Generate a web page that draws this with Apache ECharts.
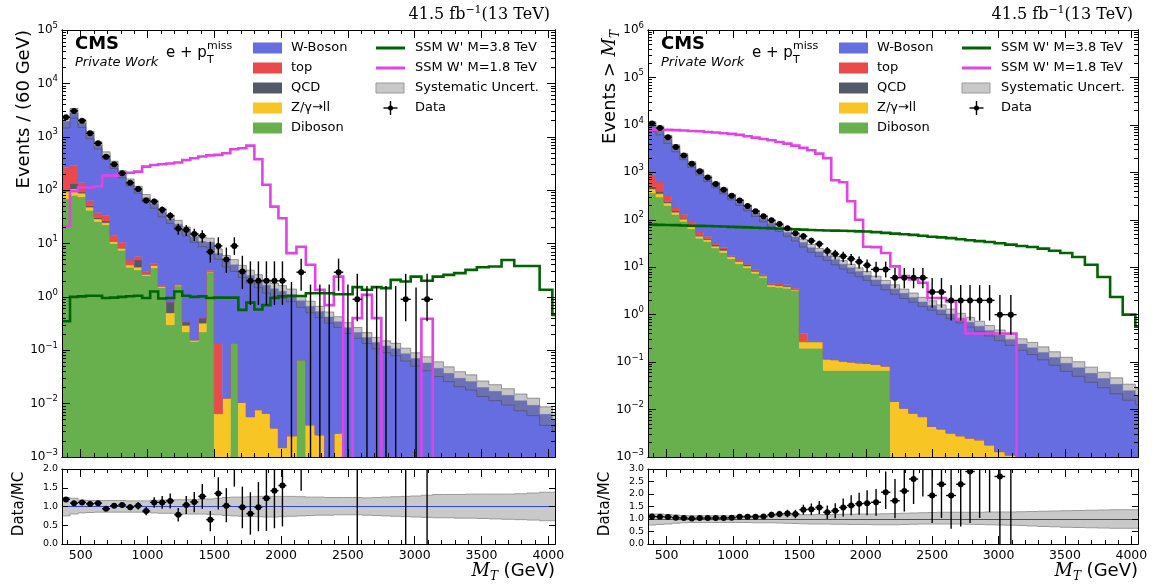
<!DOCTYPE html>
<html><head><meta charset="utf-8">
<script src="https://cdn.jsdelivr.net/npm/echarts@6/dist/echarts.min.js"></script>
<style>html,body{margin:0;padding:0;background:#fff;}#chart{width:1154px;height:584px;}</style>
</head><body><div id="chart"></div>
<script>
// ---------------- DATA ----------------
const xMin = 360, xMax = 4050;
const binEdges = [360,420,480,540,600,660,720,780,840,900,
  960,1020,1080,1140,1200,1260,1320,1380,1440,1500,
  1560,1620,1680,1740,1800,1860,1920,1980,2040,2115,
  2185,2255,2325,2395,2465,2535,2605,2680,2750,2820,
  2895,2970,3050,3135,3215,3295,3380,3465,3555,3650,
  3745,3840,3935,4030,4050];
const majorXTicks = [500,1000,1500,2000,2500,3000,3500,4000];
const leftDecades = [1e-3,1e-2,1e-1,1,10,100,1e3,1e4,1e5];
const rightDecades = [1e-3,1e-2,1e-1,1,10,100,1e3,1e4,1e5,1e6];

// ---- left panel: Events / (60 GeV)
const leftWBoson = [1685,2505,1663,1027,657,416,286,189,136,97,
  69,51,36.8,28.1,21.3,17,13.1,10.5,7.35,6.36,
  4.79,3.86,3.1,2.5,2.04,1.64,1.41,1.28,1.1,0.78,
  0.66,0.53,0.42,0.34,0.265,0.215,0.174,0.14,0.12,0.107,
  0.086,0.07,0.058,0.046,0.037,0.03,0.026,0.020,0.017,0.0143,
  0.0113,0.0093,0.0063,0.005];
const leftTop = [162,150,45,12,7.3,7,3.2,2.3,0.9,0.9,
  0.3,0.3,0.05,0,0.05,0,0,0,0.2,0.13,
  0,0,0,0,0,0,0,0,0,0,
  0,0,0,0,0,0,0,0,0,0,
  0,0,0,0,0,0,0,0,0,0,
  0,0,0,0];
const leftQCD = [10,30,5,3,2,2,0,0,0,1.3,
  0,0,0,0.3,0,0.05,0,0.08,0,0,
  0,0,0,0,0,0,0,0,0,0,
  0,0,0,0,0,0,0,0,0,0,
  0,0,0,0,0,0,0,0,0,0,
  0,0,0,0];
const leftZll = [25,25,12,6,3,2,0.9,0.7,0.4,0.4,
  0.15,0.4,0.08,0.2,0.08,0.07,0.01,0.1,0.1,0.0065,
  0.0127,0,0.0105,0.0057,0.0077,0.0066,0.0035,0.0015,0.0025,0,
  0.004,0.0026,0,0.0028,0,0,0,0,0,0,
  0,0,0,0,0,0,0,0,0,0,
  0,0,0,0];
const leftDiboson = [68,80,75,42,25.8,22.5,10,7.5,3.6,3.2,
  2.5,3.5,1.5,0.3,1.6,0.22,0.146,0.22,2.85,0,
  0,0.136,0,0,0,0,0,0,0,0.066,
  0,0,0,0,0,0,0,0,0,0,
  0,0,0,0,0,0,0,0,0,0,
  0,0,0,0];
const leftData = [2317,3040,1995,1165,755,424,305,207,138,105,
  64,61,43,33,19,18,15,14,7,9,
  5,9,3,2,2,2,2,2,0,2.9,
  0,0,0,2.9,0,0.9,0,0,0,0,
  0.9,0,0.9,null,null,null,null,null,null,null,
  null,null,null,null];
const leftDataLo = [2269,2985,1950,1131,728,403,288,193,126,95,
  56,53,36.5,27.3,14.6,13.8,11.1,10.3,4.4,6.1,
  2.8,6.1,1.4,0.71,0.71,0.71,0.71,0.71,0,1.3,
  0,0,0,1.3,0,0.35,0,0,0,0,
  0.35,0,0.35,null,null,null,null,null,null,null,
  null,null,null,null];
const leftDataHi = [2365,3095,2040,1199,782,445,322,221,150,115,
  72,69,49.5,38.7,23.4,22.2,18.9,17.7,10.8,13.1,
  8.4,13.1,5.9,4.64,4.64,4.64,4.64,4.64,1.9,5.2,
  1.7,1.7,1.7,5.2,1.7,2.7,1.6,1.6,1.6,1.6,
  2.7,1.5,2.7,null,null,null,null,null,null,null,
  null,null,null,null];
const leftSSM38 = [0.35,1.0,1.02,1.05,1.05,0.95,0.97,1.0,1.03,1.05,
  0.95,1.26,0.93,0.95,1.26,1.05,1.0,1.02,0.95,0.97,
  0.97,0.97,0.57,0.78,0.58,0.7,0.95,1.02,1.04,1.04,
  1.17,1.17,1.17,1.12,1.12,1.52,1.36,1.52,1.46,2.08,
  1.94,2.4,2.0,2.4,2.58,2.78,3.2,3.6,3.7,4.9,
  3.8,3.8,1.36,0.46];
const leftSSM18 = [21,95,112,112,117,187,187,207,212,222,
  276,296,305,316,330,367,395,427,447,458,
  491,583,608,682,378,126,49,29.8,6.6,8.7,
  4.0,1.35,0.7,2.4,0,0.4,1.09,0.4,0,0,
  0,0,0.39,0,0,0,0,0,0,0,
  0,0,0,0];
const leftSysUp = [0.24,0.22,0.17,0.16,0.16,0.16,0.16,0.16,0.15,0.15,
  0.15,0.16,0.17,0.18,0.18,0.18,0.18,0.2,0.2,0.22,
  0.24,0.25,0.25,0.26,0.27,0.27,0.27,0.27,0.27,0.26,
  0.25,0.25,0.24,0.24,0.24,0.24,0.23,0.24,0.25,0.26,
  0.27,0.28,0.3,0.32,0.32,0.32,0.33,0.33,0.33,0.33,
  0.34,0.36,0.38,0.38];
const leftSysDn = [0.25,0.2,0.17,0.16,0.15,0.15,0.15,0.15,0.15,0.15,
  0.16,0.17,0.18,0.18,0.19,0.2,0.2,0.2,0.21,0.22,
  0.24,0.25,0.26,0.27,0.27,0.28,0.28,0.27,0.26,0.25,
  0.24,0.23,0.23,0.22,0.22,0.22,0.23,0.24,0.25,0.26,
  0.27,0.28,0.29,0.3,0.3,0.31,0.31,0.32,0.33,0.34,
  0.35,0.36,0.38,0.38];
const leftRatio = [1.19,1.09,1.11,1.07,1.09,0.94,1.02,1.04,0.98,1.02,
  0.88,1.11,1.11,1.15,0.78,1.04,1.12,1.27,0.65,1.35,
  1.02,2.4,0.98,0.81,0.98,1.22,1.42,1.56,null,3.4,
  null,null,null,8.5,null,4.2,null,null,null,null,
  10,null,15,null,null,null,null,null,null,null,
  null,null,null,null];
const leftRatioLo = [1.17,1.07,1.09,1.04,1.05,0.89,0.96,0.97,0.90,0.92,
  0.77,0.97,0.94,0.95,0.60,0.80,0.85,0.94,0.34,0.92,
  0.58,1.53,0.42,0.25,0.34,0.35,0.42,0.47,null,1.42,
  null,null,null,3.8,null,0,null,null,null,null,
  0,null,0,null,null,null,null,null,null,null,
  null,null,null,null];
const leftRatioHi = [1.21,1.11,1.13,1.10,1.13,0.99,1.08,1.11,1.06,1.12,
  0.99,1.25,1.28,1.35,0.96,1.28,1.39,1.60,0.88,1.78,
  1.49,3.3,1.53,1.38,1.65,2.5,2.9,3.2,null,6.5,
  null,null,null,15,null,12,null,null,null,null,
  30,null,45,null,null,null,null,null,null,null,
  null,null,null,null];

// ---- right panel: Events > M_T
const rightWBoson = [8840,7263,4771,3083,2050,1390,965,700,516,387,
  287,221,168.5,129.6,100,79.4,63,49.8,39.9,32.6,
  25.6,20.9,17.2,14.2,11.5,9.6,8.0,6.66,5.3,4.27,
  3.48,2.8,2.3,1.85,1.55,1.26,1.03,0.84,0.69,0.57,
  0.46,0.37,0.3,0.24,0.2,0.16,0.125,0.095,0.076,0.058,
  0.045,0.034,0.025,0.02];
const rightTop = [391,229,79,34,22,15,8,4.8,2.5,1.6,
  0.7,0.4,0.35,0.3,0.3,0.25,0.25,0.25,0.25,0.13,
  0,0,0,0,0,0,0,0,0,0,
  0,0,0,0,0,0,0,0,0,0,
  0,0,0,0,0,0,0,0,0,0,
  0,0,0,0];
const rightQCD = [54,44,14,9,6,4,2,2,2,1.8,
  0.5,0.5,0.5,0.5,0.13,0.13,0.13,0.13,0,0,
  0,0,0,0,0,0,0,0,0,0,
  0,0,0,0,0,0,0,0,0,0,
  0,0,0,0,0,0,0,0,0,0,
  0,0,0,0];
const rightZll = [77,52,27,15,9,6,4,3.1,2.4,2.0,
  1.6,1.45,1.05,0.62,0.42,0.34,0.27,0.27,0.17,0.073,
  0.073,0.073,0.05,0.046,0.038,0.034,0.03,0.027,0.023,0.016,
  0.0148,0.0107,0.0084,0.0071,0.0044,0.0039,0.0032,0.0028,0.0025,0.0023,
  0.0018,0.0013,0.0011,0,0,0,0,0,0,0,
  0,0,0,0];
const rightDiboson = [367,302,199,129,93,65,41,35,25.4,20.5,
  15,11.8,9.6,7.5,6.1,3.9,3.8,3.6,3.2,0.197,
  0.197,0.197,0.0665,0.0665,0.0665,0.0665,0.0665,0.0665,0.0665,0.0665,
  0,0,0,0,0,0,0,0,0,0,
  0,0,0,0,0,0,0,0,0,0,
  0,0,0,0];
const rightData = [10700,8600,5500,3430,2270,1510,1060,775,570,430,
  320,256,196,151,118,98,81,66,52,45,
  36,31,22,19,17,15,13,11,9,9,
  6,6,6,6,3,3,2,2,2,2,
  2,1,1,null,null,null,null,null,null,null,
  null,null,null,null];
const rightDataLo = [10597,8507,5426,3371,2222,1471,1027,747,546,409,
  302,240,182,139,107,88,72,58,45,38,
  30,25.5,17.4,14.6,12.9,11.1,9.4,7.8,6.1,6.1,
  3.6,3.6,3.6,3.6,1.4,1.4,0.75,0.75,0.75,0.75,
  0.75,0.38,0.38,null,null,null,null,null,null,null,
  null,null,null,null];
const rightDataHi = [10803,8693,5574,3489,2318,1549,1093,803,594,451,
  338,272,210,163,129,108,90,74,59,52,
  42,36.5,26.7,23.4,21.1,19.0,16.8,14.6,13.1,13.1,
  9.6,9.6,9.6,9.6,5.9,5.9,4.2,4.2,4.2,4.2,
  4.2,2.6,2.6,null,null,null,null,null,null,null,
  null,null,null,null];
const rightSSM38 = [79,78,77.5,77,76,75,74.5,74,73,72,
  71,70,69,68,67,66,65,64,63,62,
  61,60,59.5,59,58.5,58,57,56.5,55,53,
  51,49.5,48,46,44,42.5,41,39,37,35.5,
  34,32,30,28,26.7,24.6,22.3,19.9,16.4,11.3,
  6.2,2.35,1.0,0.56];
const rightSSM18 = [7960,7900,7850,7750,7600,7450,7330,7100,6890,6680,
  6460,6150,5750,5390,5060,4730,4370,4030,3660,3270,
  2910,2480,1990,680,620,245,100,27,26.5,20,
  10.4,6.5,5.5,4.7,2.25,2.25,1.9,0.79,0.4,0.4,
  0.4,0.4,0.4,0,0,0,0,0,0,0,
  0,0,0,0];
const rightSysUp = [0.2,0.2,0.18,0.16,0.14,0.13,0.13,0.13,0.13,0.13,
  0.13,0.13,0.13,0.13,0.14,0.14,0.15,0.15,0.16,0.17,
  0.17,0.18,0.18,0.18,0.19,0.19,0.2,0.2,0.2,0.21,
  0.22,0.23,0.24,0.25,0.26,0.27,0.27,0.27,0.27,0.27,
  0.28,0.28,0.28,0.29,0.3,0.31,0.32,0.33,0.34,0.35,
  0.36,0.37,0.37,0.37];
const rightSysDn = [0.24,0.22,0.2,0.17,0.15,0.14,0.14,0.14,0.14,0.14,
  0.14,0.14,0.14,0.15,0.15,0.15,0.16,0.17,0.18,0.19,
  0.2,0.2,0.2,0.21,0.21,0.22,0.22,0.22,0.23,0.23,
  0.23,0.22,0.21,0.2,0.2,0.2,0.2,0.2,0.21,0.22,
  0.23,0.24,0.25,0.26,0.28,0.3,0.31,0.33,0.34,0.35,
  0.36,0.37,0.37,0.37];
const rightRatio = [1.10,1.09,1.08,1.05,1.04,1.02,1.04,1.04,1.04,1.04,
  1.05,1.09,1.09,1.09,1.10,1.17,1.20,1.22,1.20,1.37,
  1.39,1.46,1.27,1.33,1.46,1.54,1.61,1.63,1.67,2.07,
  1.73,2.12,2.60,3.2,1.94,2.39,1.94,2.39,2.90,3.5,
  4.3,2.70,3.3,null,null,null,null,null,null,null,
  null,null,null,null];
const rightRatioLo = [1.09,1.08,1.07,1.03,1.02,1.00,1.01,1.00,0.99,0.99,
  0.99,1.02,1.01,1.00,1.00,1.05,1.07,1.07,1.03,1.17,
  1.16,1.20,1.00,1.03,1.10,1.15,1.17,1.15,1.13,1.40,
  1.03,1.30,1.60,1.90,0.84,1.04,0.61,0.70,0.84,1.04,
  1.27,0,0,null,null,null,null,null,null,null,
  null,null,null,null];
const rightRatioHi = [1.11,1.10,1.09,1.07,1.06,1.05,1.07,1.08,1.09,1.09,
  1.11,1.16,1.17,1.18,1.20,1.29,1.33,1.37,1.37,1.57,
  1.62,1.72,1.54,1.63,1.82,1.95,2.05,2.15,2.20,2.90,
  2.60,3.30,4.00,5.00,3.80,4.60,4.00,4.80,5.80,7.00,
  8.70,7.00,9.00,null,null,null,null,null,null,null,
  null,null,null,null];

// ---------------- STYLE / LAYOUT ----------------
const FONT = '"DejaVu Sans", "Liberation Sans", sans-serif';
const SERIF = '"DejaVu Serif", "Liberation Serif", serif';
const C = {w:'#656de0', top:'#ea4a4b', qcd:'#525a6a', zll:'#f8c624', dib:'#67b04d',
  ssm38:'#006400', ssm18:'#e044e4', band:'rgba(120,120,120,0.42)', bandEdge:'rgba(70,70,70,0.5)',
  rband:'#c9c9c9', rbandEdge:'#9a9a9a', ref:'#3344dd'};
const NB = binEdges.length - 1;
const minorXTicks = [];
for (let v = 400; v <= 4000; v += 100) if (v % 500 !== 0) minorXTicks.push(v);
function minorLog(dec) { const out = []; for (let i = 0; i < dec.length - 1; i++) for (let k = 2; k <= 9; k++) out.push(k * dec[i]); return out; }

const panels = [
  {mainBox:{left:62, top:30, width:493, height:427}, ratioBox:{left:62, top:469, width:493, height:75},
   decades:leftDecades, rMax:2,
   comps:[[leftDiboson,C.dib],[leftZll,C.zll],[leftQCD,C.qcd],[leftTop,C.top],[leftWBoson,C.w]],
   data:[leftData,leftDataLo,leftDataHi], ssm38:leftSSM38, ssm18:leftSSM18, sysUp:leftSysUp, sysDn:leftSysDn,
   ratioVals:[leftRatio,leftRatioLo,leftRatioHi],
   yTitle:'{n|Events / (60 GeV)}'},
  {mainBox:{left:648, top:30, width:490, height:427}, ratioBox:{left:648, top:469, width:490, height:75},
   decades:rightDecades, rMax:3,
   comps:[[rightDiboson,C.dib],[rightZll,C.zll],[rightQCD,C.qcd],[rightTop,C.top],[rightWBoson,C.w]],
   data:[rightData,rightDataLo,rightDataHi], ssm38:rightSSM38, ssm18:rightSSM18, sysUp:rightSysUp, sysDn:rightSysDn,
   ratioVals:[rightRatio,rightRatioLo,rightRatioHi],
   yTitle:'{n|Events > }{m|M}{t|T}'}
];

const grids = [], xAxes = [], yAxes = [], series = [], graphics = [];

function addX(gridIndex, position, ticks, len, labels) {
  xAxes.push({type:'value', gridIndex, position, min:xMin, max:xMax, z:10,
    splitLine:{show:false},
    axisLine:{show:true, onZero:false, lineStyle:{color:'#000', width:1}},
    axisTick:{show:true, inside:true, length:len, customValues:ticks, lineStyle:{color:'#000', width:1}},
    axisLabel: labels ? {show:true, customValues:ticks, margin:5, fontFamily:FONT, fontSize:12.5, color:'#000', formatter: v => String(v)} : {show:false}});
  return xAxes.length - 1;
}
function addLogY(gridIndex, position, ticks, len, labels, dec) {
  yAxes.push({type:'log', logBase:10, gridIndex, position, min:dec[0], max:dec[dec.length-1], z:10,
    splitLine:{show:false},
    axisLine:{show:true, onZero:false, lineStyle:{color:'#000', width:1}},
    axisTick:{show:true, inside:true, length:len, customValues:ticks, lineStyle:{color:'#000', width:1}},
    axisLabel: labels ? {show:true, customValues:ticks, margin:4, color:'#000',
      formatter: v => { const e = Math.round(Math.log10(v)); return '{b|10}{s|' + (e < 0 ? '\u2212' + (-e) : e) + '}'; },
      rich:{b:{fontFamily:FONT, fontSize:12, lineHeight:18, color:'#000'},
            s:{fontFamily:FONT, fontSize:8.5, lineHeight:9, verticalAlign:'top', color:'#000'}}} : {show:false}});
  return yAxes.length - 1;
}
function addRatioY(gridIndex, position, labels, rMax) {
  yAxes.push({type:'value', gridIndex, position, min:0, max:rMax, interval:0.5, z:10,
    splitLine:{show:false},
    axisLine:{show:true, onZero:false, lineStyle:{color:'#000', width:1}},
    axisTick:{show:true, inside:true, length:6, lineStyle:{color:'#000', width:1}},
    axisLabel: labels ? {show:true, margin:4, fontFamily:FONT, fontSize:9.5, color:'#000', formatter: v => v.toFixed(1)} : {show:false}});
  return yAxes.length - 1;
}

// step polygon between lo[] and hi[] over the bin edges, placed through the axes' scales
function polyRender(loArr, hiArr, style) {
  return function (params, api) {
    const cs = params.coordSys, yT = cs.y, yB = cs.y + cs.height;
    const yOf = v => (v > 0 ? Math.min(Math.max(api.coord([xMin, v])[1], yT), yB) : yB);
    const xOf = e => api.coord([e, 1])[0];
    const pts = [];
    for (let i = 0; i < NB; i++) { const y = yOf(hiArr[i]); pts.push([xOf(binEdges[i]), y], [xOf(binEdges[i + 1]), y]); }
    for (let i = NB - 1; i >= 0; i--) { const y = yOf(loArr[i]); pts.push([xOf(binEdges[i + 1]), y], [xOf(binEdges[i]), y]); }
    return {type:'polygon', shape:{points:pts}, style};
  };
}
function lineRender(vals, style, below) {
  return function (params, api) {
    const cs = params.coordSys, yT = cs.y, yB = cs.y + cs.height;
    const yOf = v => (v > 0 ? Math.min(Math.max(api.coord([xMin, v])[1], yT - 5), yB + below) : yB + below);
    const xOf = e => api.coord([e, 1])[0];
    const pts = [];
    for (let i = 0; i < NB; i++) { if (vals[i] == null) continue; const y = yOf(vals[i]); pts.push([xOf(binEdges[i]), y], [xOf(binEdges[i + 1]), y]); }
    return {type:'polyline', shape:{points:pts}, style:Object.assign({fill:null, lineJoin:'miter'}, style)};
  };
}
function pointsRender(isLog) {
  return function (params, api) {
    const cs = params.coordSys, yB = cs.y + cs.height;
    const xc = api.value(0), v = api.value(1), lo = api.value(2), hi = api.value(3), x0 = api.value(4), x1 = api.value(5);
    const Y = val => (isLog && !(val > 0)) ? yB + 2 : api.coord([xc, val])[1];
    const px = api.coord([xc, 1])[0];
    const ch = [{type:'line', shape:{x1:px, y1:Y(lo), x2:px, y2:Y(hi)}, style:{stroke:'#000', lineWidth:1.4}}];
    if (!isLog || v > 0) {
      const py = Y(v);
      ch.push({type:'line', shape:{x1:api.coord([x0, 1])[0], y1:py, x2:api.coord([x1, 1])[0], y2:py}, style:{stroke:'#000', lineWidth:1.4}});
      ch.push({type:'circle', shape:{cx:px, cy:py, r:3}, style:{fill:'#000'}});
    }
    return {type:'group', children:ch};
  };
}

panels.forEach((P) => {
  const gm = grids.length; grids.push(Object.assign({show:false}, P.mainBox));
  const gr = grids.length; grids.push(Object.assign({show:false}, P.ratioBox));
  const xm = addX(gm, 'bottom', majorXTicks, 8, false); addX(gm, 'bottom', minorXTicks, 4, false);
  addX(gm, 'top', majorXTicks, 8, false); addX(gm, 'top', minorXTicks, 4, false);
  const xr = addX(gr, 'bottom', majorXTicks, 8, true); addX(gr, 'bottom', minorXTicks, 4, false);
  addX(gr, 'top', majorXTicks, 8, false); addX(gr, 'top', minorXTicks, 4, false);
  const minY = minorLog(P.decades);
  const ym = addLogY(gm, 'left', P.decades, 8, true, P.decades); addLogY(gm, 'left', minY, 4, false, P.decades);
  addLogY(gm, 'right', P.decades, 8, false, P.decades); addLogY(gm, 'right', minY, 4, false, P.decades);
  const yr = addRatioY(gr, 'left', true, P.rMax); addRatioY(gr, 'right', false, P.rMax);

  const base = {type:'custom', coordinateSystem:'cartesian2d', xAxisIndex:xm, yAxisIndex:ym, clip:true, silent:true, animation:false,
    data:[[xMin, 1]], encode:{x:0, y:1}};
  const names = ['Diboson','Z/\u03b3\u2192ll','QCD','top','W-Boson'];
  let lo = new Array(NB).fill(0);
  P.comps.forEach(([arr, col], k) => {
    const hi = lo.map((v, i) => v + arr[i]);
    series.push(Object.assign({}, base, {name:names[k], z:2, renderItem:polyRender(lo.slice(), hi, {fill:col, stroke:col, lineWidth:0.4})}));
    lo = hi;
  });
  const total = lo;
  const bandHi = total.map((t, i) => t * (1 + P.sysUp[i]));
  const bandLo = total.map((t, i) => t * (1 - P.sysDn[i]));
  series.push(Object.assign({}, base, {name:'Systematic Uncert.', z:3, renderItem:polyRender(bandLo, bandHi, {fill:C.band})}));
  series.push(Object.assign({}, base, {z:3, renderItem:lineRender(bandHi, {stroke:C.bandEdge, lineWidth:1}, 2)}));
  series.push(Object.assign({}, base, {z:3, renderItem:lineRender(bandLo, {stroke:C.bandEdge, lineWidth:1}, 2)}));
  series.push(Object.assign({}, base, {name:"SSM W' M=1.8 TeV", z:4, renderItem:lineRender(P.ssm18, {stroke:C.ssm18, lineWidth:2.6}, 1)}));
  series.push(Object.assign({}, base, {name:"SSM W' M=3.8 TeV", z:4, renderItem:lineRender(P.ssm38, {stroke:C.ssm38, lineWidth:2.6}, 1)}));
  const dpts = [];
  for (let i = 0; i < NB; i++) {
    if (P.data[0][i] == null) continue;
    dpts.push([(binEdges[i] + binEdges[i + 1]) / 2, P.data[0][i], P.data[1][i], P.data[2][i], binEdges[i], binEdges[i + 1]]);
  }
  series.push({type:'custom', name:'Data', coordinateSystem:'cartesian2d', xAxisIndex:xm, yAxisIndex:ym, clip:true, silent:true, animation:false,
    z:6, data:dpts, encode:{x:0, y:3}, renderItem:pointsRender(true)});

  const rbase = {type:'custom', coordinateSystem:'cartesian2d', xAxisIndex:xr, yAxisIndex:yr, clip:true, silent:true, animation:false,
    data:[[xMin, 1]], encode:{x:0, y:1}};
  const rHi = P.sysUp.map(u => 1 + u), rLo = P.sysDn.map(d => 1 - d);
  series.push(Object.assign({}, rbase, {z:2, renderItem:polyRender(rLo, rHi, {fill:C.rband})}));
  series.push(Object.assign({}, rbase, {z:3, renderItem:lineRender(rHi, {stroke:C.rbandEdge, lineWidth:1}, 0)}));
  series.push(Object.assign({}, rbase, {z:3, renderItem:lineRender(rLo, {stroke:C.rbandEdge, lineWidth:1}, 0)}));
  series.push({type:'scatter', xAxisIndex:xr, yAxisIndex:yr, data:[], silent:true, z:4, animation:false,
    markLine:{silent:true, symbol:'none', label:{show:false}, animation:false, lineStyle:{color:C.ref, width:1.2, type:'solid'}, data:[{yAxis:1}]}});
  const rpts = [];
  for (let i = 0; i < NB; i++) {
    if (P.ratioVals[0][i] == null) continue;
    rpts.push([(binEdges[i] + binEdges[i + 1]) / 2, P.ratioVals[0][i], P.ratioVals[1][i], P.ratioVals[2][i], binEdges[i], binEdges[i + 1]]);
  }
  series.push({type:'custom', coordinateSystem:'cartesian2d', xAxisIndex:xr, yAxisIndex:yr, clip:true, silent:true, animation:false,
    z:6, data:rpts, encode:{x:0, y:1}, renderItem:pointsRender(false)});

  // ---- texts & legend ----
  const L = P.mainBox.left, Rr = P.mainBox.left + P.mainBox.width;
  const T = (x, y, text, font, align) => graphics.push({type:'text', x, y, z:100, silent:true,
    style:{text, font, fill:'#000', textAlign:align || 'left', textVerticalAlign:'middle'}});
  T(L + 13, 44, 'CMS', 'bold 18px ' + FONT);
  T(L + 13, 63, 'Private Work', 'italic 13px ' + FONT);
  T(L + 104, 53, 'e + p', '15px ' + FONT);
  T(L + 145, 60, 'T', '11px ' + FONT);
  T(L + 145, 46.5, 'miss', '11px ' + FONT);
  graphics.push({type:'text', x:Rr - 5, y:15, z:100, silent:true,
    style:{text:'{n|41.5 fb}{s|\u22121}{n|(13 TeV)}', fill:'#000', textAlign:'right', textVerticalAlign:'middle',
      rich:{n:{fontFamily:SERIF, fontSize:16, lineHeight:20}, s:{fontFamily:SERIF, fontSize:11, lineHeight:11, verticalAlign:'top'}}}});
  graphics.push({type:'text', x:Rr, y:571, z:100, silent:true,
    style:{text:'{m|M}{t|T}{n| (GeV)}', fill:'#000', textAlign:'right', textVerticalAlign:'middle',
      rich:{n:{fontFamily:FONT, fontSize:18, lineHeight:24}, m:{fontFamily:SERIF, fontStyle:'italic', fontSize:18, lineHeight:24},
            t:{fontFamily:SERIF, fontStyle:'italic', fontSize:12, lineHeight:12, verticalAlign:'bottom'}}}});
  graphics.push({type:'text', x:L - 38, y:30, rotation:Math.PI / 2, z:100, silent:true,
    style:{text:P.yTitle, fill:'#000', textAlign:'right', textVerticalAlign:'middle',
      rich:{n:{fontFamily:FONT, fontSize:18, lineHeight:24}, m:{fontFamily:SERIF, fontStyle:'italic', fontSize:18, lineHeight:24},
            t:{fontFamily:SERIF, fontStyle:'italic', fontSize:12, lineHeight:12, verticalAlign:'bottom'}}}});
  graphics.push({type:'text', x:L - 43, y:504, rotation:Math.PI / 2, z:100, silent:true,
    style:{text:'Data/MC', font:'15px ' + FONT, fill:'#000', textAlign:'center', textVerticalAlign:'middle'}});
  const leg1 = [['W-Boson', C.w], ['top', C.top], ['QCD', C.qcd], ['Z/\u03b3\u2192ll', C.zll], ['Diboson', C.dib]];
  leg1.forEach(([txt, col], k) => {
    const yc = 48 + 20 * k;
    graphics.push({type:'rect', z:100, silent:true, shape:{x:L + 191, y:yc - 5.5, width:29, height:11}, style:{fill:col}});
    T(L + 229, yc, txt, '13px ' + FONT);
  });
  const cx = L + 314;
  graphics.push({type:'line', z:100, silent:true, shape:{x1:cx, y1:48, x2:cx + 29, y2:48}, style:{stroke:C.ssm38, lineWidth:3}});
  T(cx + 39, 48, "SSM W' M=3.8 TeV", '13px ' + FONT);
  graphics.push({type:'line', z:100, silent:true, shape:{x1:cx, y1:68, x2:cx + 29, y2:68}, style:{stroke:C.ssm18, lineWidth:3}});
  T(cx + 39, 68, "SSM W' M=1.8 TeV", '13px ' + FONT);
  graphics.push({type:'rect', z:100, silent:true, shape:{x:cx, y:83, width:28, height:10}, style:{fill:'#c8c8c8', stroke:'#9a9a9a', lineWidth:1}});
  T(cx + 39, 88, 'Systematic Uncert.', '13px ' + FONT);
  graphics.push({type:'line', z:100, silent:true, shape:{x1:cx + 7.5, y1:108, x2:cx + 21.5, y2:108}, style:{stroke:'#000', lineWidth:1.4}});
  graphics.push({type:'line', z:100, silent:true, shape:{x1:cx + 14.5, y1:101, x2:cx + 14.5, y2:115}, style:{stroke:'#000', lineWidth:1.4}});
  graphics.push({type:'circle', z:100, silent:true, shape:{cx:cx + 14.5, cy:108, r:2.5}, style:{fill:'#000'}});
  T(cx + 39, 108, 'Data', '13px ' + FONT);
});

const chart = echarts.init(document.getElementById('chart'), null, {renderer:'canvas', width:1154, height:584});
chart.setOption({animation:false, backgroundColor:'#fff', grid:grids, xAxis:xAxes, yAxis:yAxes, series, graphic:{elements:graphics}});
</script></body></html>
